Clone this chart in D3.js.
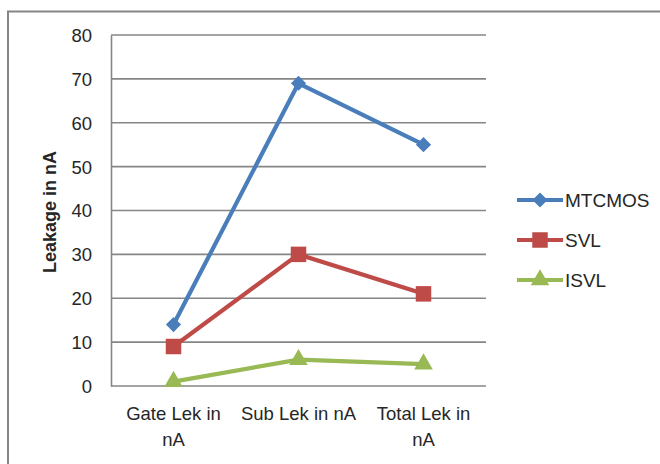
<!DOCTYPE html>
<html>
<head>
<meta charset="utf-8">
<script src="https://cdn.jsdelivr.net/npm/d3@7/dist/d3.min.js"></script>
<style>
  html, body { margin: 0; padding: 0; background: #fff; }
  svg text { font-family: "Liberation Sans", Arial, sans-serif; fill: #262626; }
</style>
</head>
<body>
<svg id="chart" width="660" height="464"></svg>
<script>
// Leakage by category, per technique
const categories = ["Gate Lek in nA", "Sub Lek in nA", "Total Lek in nA"];
const mtcmos = [14, 69, 55];
const svl = [9, 30, 21];
const isvl = [1, 6, 5];
const yTicks = [0, 10, 20, 30, 40, 50, 60, 70, 80];
const seriesNames = ["MTCMOS", "SVL", "ISVL"];

// square rotated 45 degrees, as a d3 symbol type
const wideDiamond = {
  draw(ctx, size) {
    const r = Math.sqrt(size / 2);
    ctx.moveTo(0, -r); ctx.lineTo(r, 0); ctx.lineTo(0, r); ctx.lineTo(-r, 0); ctx.closePath();
  }
};

const series = [
  { name: seriesNames[0], values: mtcmos, color: "#4A7EBB", symbol: wideDiamond, size: 115 },
  { name: seriesNames[1], values: svl, color: "#BE4B48", symbol: d3.symbolSquare, size: 240 },
  { name: seriesNames[2], values: isvl, color: "#98B954", symbol: d3.symbolTriangle, size: 150 }
];

const svg = d3.select("#chart");
const plot = { left: 111, right: 486, top: 35, bottom: 386 };

// outer frame (open at the bottom and right edge)
svg.append("path")
  .attr("d", "M8,470 L8,11.5 L662,11.5")
  .attr("fill", "none").attr("stroke", "#868686").attr("stroke-width", 2);

const x = d3.scalePoint().domain(categories).range([plot.left, plot.right]).padding(0.5);
const y = d3.scaleLinear().domain([0, 80]).range([plot.bottom, plot.top]);

// horizontal gridlines
svg.append("g").selectAll("line").data(yTicks).join("line")
  .attr("x1", plot.left).attr("x2", plot.right)
  .attr("y1", d => y(d)).attr("y2", d => y(d))
  .attr("stroke", "#868686").attr("stroke-width", 1.6);

// y axis
const yAxis = svg.append("g").attr("transform", `translate(${plot.left},0)`)
  .call(d3.axisLeft(y).tickValues(yTicks).tickSize(0).tickPadding(19));
yAxis.select(".domain").attr("stroke", "#868686").attr("stroke-width", 1.6);
yAxis.selectAll("text").style("font-size", "18.5px").attr("fill", "#262626")
  .style("font-family", "Liberation Sans, Arial, sans-serif").attr("dy", "0.35em");

// x axis labels (wrapped onto two lines where needed)
const xLabels = svg.append("g");
categories.forEach(c => {
  const words = c.split(" ");
  const lines = c === "Sub Lek in nA" ? [c] : [words.slice(0, -1).join(" "), words[words.length - 1]];
  const t = xLabels.append("text").attr("text-anchor", "middle").style("font-size", "18.5px");
  lines.forEach((ln, i) => {
    t.append("tspan").attr("x", x(c)).attr("y", 420 + i * 26).text(ln);
  });
});

// y axis title
svg.append("text")
  .attr("transform", "translate(56,212) rotate(-90)")
  .attr("text-anchor", "middle")
  .style("font-size", "18px").style("font-weight", "bold")
  .text("Leakage in nA");

// series lines and markers
const line = d3.line().x((d, i) => x(categories[i])).y(d => y(d));
series.forEach(s => {
  svg.append("path").datum(s.values)
    .attr("d", line).attr("fill", "none")
    .attr("stroke", s.color).attr("stroke-width", 4.2).attr("stroke-linejoin", "round");
  svg.append("g").selectAll("path").data(s.values).join("path")
    .attr("transform", (d, i) => `translate(${x(categories[i])},${y(d)})`)
    .attr("d", d3.symbol().type(s.symbol).size(s.size))
    .attr("fill", s.color);
});

// legend
const legend = svg.append("g");
series.forEach((s, i) => {
  const ly = 200 + i * 40;
  legend.append("line").attr("x1", 517).attr("x2", 563).attr("y1", ly).attr("y2", ly)
    .attr("stroke", s.color).attr("stroke-width", 4.2);
  legend.append("path").attr("transform", `translate(540,${ly})`)
    .attr("d", d3.symbol().type(s.symbol).size(s.size)).attr("fill", s.color);
  legend.append("text").attr("x", 565).attr("y", ly).attr("dy", "0.35em")
    .style("font-size", "19px").text(s.name);
});
</script>
</body>
</html>
